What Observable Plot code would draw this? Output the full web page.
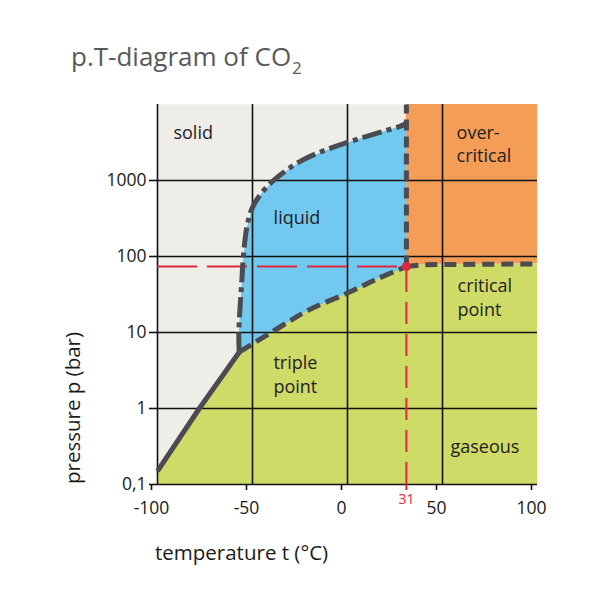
<!DOCTYPE html>
<html>
<head>
<meta charset="utf-8">
<script src="https://cdn.jsdelivr.net/npm/d3@7"></script>
<script src="https://cdn.jsdelivr.net/npm/@observablehq/plot@0.6"></script>
<style>
  body { margin: 0; background: #fff; font-family: "Open Sans", sans-serif; }
  #wrap { position: relative; width: 609px; height: 609px; }
  #title { position: absolute; left: 71px; top: 43px; font-size: 26px; line-height: 26px; color: #58595b; white-space: nowrap; }
  #title .sub { font-size: 17px; position: relative; top: 8px; margin-left: 1px; }
  .axlabel { position: absolute; font-size: 20.5px; line-height: 20px; color: #1a1a1a; white-space: nowrap; }
  #xlabel { left: 155px; top: 542px; }
  #ylabel { left: 72px; top: 408px; transform: translate(-50%, -50%) rotate(-90deg); }
  #chart { position: absolute; left: 0; top: 0; }
</style>
</head>
<body>
<div id="wrap">
  <div id="chart"></div>
  <div id="title">p.T-diagram of CO<span class="sub">2</span></div>
  <div id="xlabel" class="axlabel">temperature t (°C)</div>
  <div id="ylabel" class="axlabel">pressure p (bar)</div>
</div>
<script>
// ---- data ----
const tempDomain = [-100, 100];
const pressDomain = [0.1, 10000];
const xTicks = [-100, -50, 0, 50, 100];
const xTickLabels = ["-100", "-50", "0", "50", "100"];
const xGridTicks = [-100, -50, 0, 50];
const yTicks = [0.1, 1, 10, 100, 1000];
const yTickLabels = ["0,1", "1", "10", "100", "1000"];

// sublimation curve (solid)
const sublimationT = [-100, -78, -57];
const sublimationP = [0.15, 1.0, 5.5];
// melting curve (dash-dot)
const meltingT = [-57, -57.2, -55.5, -55, -53, -50, -44.5, -37, -24.7, -7.4, 10.5, 27.9, 31];
const meltingP = [5.5, 9.9, 54, 86, 241, 443, 720, 1100, 1800, 2750, 3840, 5200, 5600];
// vaporization curve (dashed)
const vaporT = [-57, -35.3, -20, 0, 15, 31];
const vaporP = [5.5, 11.9, 20, 33, 50, 73.8];
// critical point
const criticalT = 31;
const criticalP = 73.8;
const criticalLabels = ["31", "73,8"];
// supercritical pressure boundary (dashed, to the right)
const superT = [31, 40, 100];
const superP = [73.8, 78, 80];

// region labels
const regionText = ["solid", "liquid", "over-\ncritical", "critical\npoint", "triple\npoint", "gaseous"];
const regionT = [-91.6, -38.9, 57.4, 57.9, -39, 54.2];
const regionP = [4470, 336, 3090, 29.6, 2.88, 0.327];

// colours
const cSolid = "#efede8", cLiquid = "#72c9ef", cSuper = "#f49d56", cGas = "#cfdb67";
const cCurve = "#4a4c51", cRed = "#e0263d", cInk = "#111111";

// ---- derived tables ----
const zip = (T, P) => T.map((t, i) => ({t, p: P[i]}));
const sublimation = zip(sublimationT, sublimationP);
const melting = zip(meltingT, meltingP);
const vapor = zip(vaporT, vaporP);
const superB = zip(superT, superP);
const critical = [{t: criticalT, p: criticalP}];

const gasBoundary = [...sublimation.slice(0, -1), ...vapor, ...superB.slice(1)];
const liquidPoly = [...melting, {t: criticalT, p: criticalP}, ...vapor.slice().reverse()];
const regions = regionText.map((s, i) => ({s, t: regionT[i], p: regionP[i]}));

const chart = Plot.plot({
  width: 609,
  height: 609,
  marginLeft: 157,
  marginRight: 72,
  marginTop: 104,
  marginBottom: 125,
  style: {fontFamily: "Open Sans, sans-serif", background: "transparent", color: cInk},
  x: {domain: tempDomain, axis: null},
  y: {type: "log", domain: pressDomain, axis: null},
  marks: [
    Plot.frame({fill: cSolid, stroke: "none"}),
    Plot.areaY(gasBoundary, {x: "t", y1: pressDomain[0], y2: "p", fill: cGas}),
    Plot.areaY(superB, {x: "t", y1: "p", y2: pressDomain[1], fill: cSuper}),
    Plot.line(liquidPoly, {x: "t", y: "p", fill: cLiquid, stroke: "none"}),
    // grid
    Plot.ruleX(xGridTicks, {stroke: cInk, strokeWidth: 1.6}),
    Plot.ruleY(yTicks, {stroke: cInk, strokeWidth: 1.6}),
    // axes
    Plot.axisX(xTicks, {label: null, tickSize: 6, tickPadding: 11, fontSize: 17.5, dx: -6, stroke: cInk, strokeWidth: 1.6, fill: "#1a1a1a", tickFormat: d => xTickLabels[xTicks.indexOf(d)]}),
    Plot.axisY(yTicks, {label: null, tickSize: 8, tickPadding: 3, fontSize: 17.5, stroke: cInk, strokeWidth: 1.6, fill: "#1a1a1a", tickFormat: d => yTickLabels[yTicks.indexOf(d)]}),
    Plot.axisX([criticalT], {label: null, tickSize: 6, tickPadding: 4, fontSize: 14, stroke: cRed, strokeWidth: 2, fill: cRed, tickFormat: () => criticalLabels[0]}),
    Plot.axisY([criticalP], {label: null, tickSize: 0, tickPadding: 11, fontSize: 14, dy: 2, fill: cRed, tickFormat: () => criticalLabels[1]}),
    // red guide lines
    Plot.ruleY([criticalP], {x1: tempDomain[0], x2: criticalT, stroke: cRed, strokeWidth: 2, strokeDasharray: "40,10"}),
    Plot.ruleX([criticalT], {y1: pressDomain[0], y2: criticalP, stroke: cRed, strokeWidth: 2, strokeDasharray: "22,10"}),
    // phase boundaries
    Plot.line(sublimation, {x: "t", y: "p", stroke: cCurve, strokeWidth: 5, strokeLinecap: "butt"}),
    Plot.line(melting, {x: "t", y: "p", stroke: cCurve, strokeWidth: 5, strokeLinecap: "butt", strokeDasharray: "20,5,5,5", curve: "catmull-rom"}),
    Plot.line(vapor, {x: "t", y: "p", stroke: cCurve, strokeWidth: 5, strokeLinecap: "butt", strokeDasharray: "14,6", curve: "catmull-rom"}),
    Plot.line([{t: criticalT, p: criticalP}, {t: criticalT, p: pressDomain[1]}], {x: "t", y: "p", stroke: cCurve, strokeWidth: 5, strokeLinecap: "butt", strokeDasharray: "11,6"}),
    Plot.line(superB, {x: "t", y: "p", stroke: cCurve, strokeWidth: 5, strokeLinecap: "butt", strokeDasharray: "12,7"}),
    Plot.dot(critical, {x: "t", y: "p", r: 4.5, fill: cRed, stroke: "none"}),
    // region labels
    Plot.text(regions, {x: "t", y: "p", text: "s", textAnchor: "start", lineAnchor: "middle", fontSize: 18, lineHeight: 1.3, fill: "#222"})
  ]
});
document.getElementById("chart").appendChild(chart);
</script>
</body>
</html>
